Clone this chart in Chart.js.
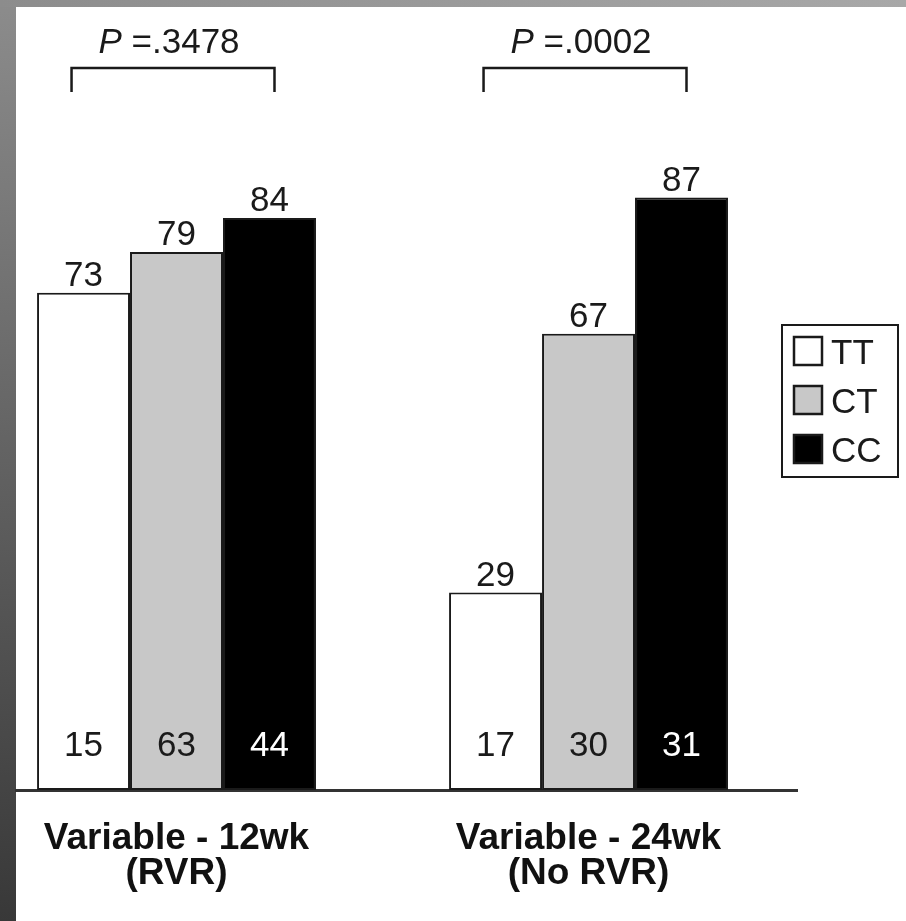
<!DOCTYPE html>
<html>
<head>
<meta charset="utf-8">
<title>Response by genotype</title>
<script src="https://cdn.jsdelivr.net/npm/chart.js@4.4.1/dist/chart.umd.min.js"></script>
<style>
  body { margin: 0; background: #fff; }
  canvas { display: block; }
</style>
</head>
<body>
<canvas id="genotypeChart" width="906" height="921"></canvas>
<script>
const categories = [['Variable - 12wk', '(RVR)'], ['Variable - 24wk', '(No RVR)']];
const genotypes = ['TT', 'CT', 'CC'];
const ttValues = [73, 29];
const ctValues = [79, 67];
const ccValues = [84, 87];
const ttCounts = [15, 17];
const ctCounts = [63, 30];
const ccCounts = [44, 31];
const pValues = ['.3478', '.0002'];

const family = "'Liberation Sans', Arial, Helvetica, sans-serif";
const ink = '#1a1a1a';

function points(values) {
  return values.map((v, i) => ({ x: i + 1, y: v }));
}

// grey frame on the left and top edge
const frame = {
  id: 'frame',
  beforeDraw(chart) {
    const ctx = chart.ctx;
    ctx.save();
    ctx.fillStyle = '#fff';
    ctx.fillRect(0, 0, chart.width, chart.height);
    let g = ctx.createLinearGradient(0, 0, 0, chart.height);
    g.addColorStop(0, '#8c8c8c');
    g.addColorStop(1, '#383838');
    ctx.fillStyle = g;
    ctx.fillRect(0, 0, 16, chart.height);
    g = ctx.createLinearGradient(0, 0, chart.width, 0);
    g.addColorStop(0, '#8c8c8c');
    g.addColorStop(1, '#a8a8a8');
    ctx.fillStyle = g;
    ctx.fillRect(0, 0, chart.width, 7);
    ctx.restore();
  }
};

// percent above each bar, n inside the bottom, P brackets on top
const barLabels = {
  id: 'barLabels',
  afterDatasetsDraw(chart) {
    const ctx = chart.ctx;
    const bottom = chart.chartArea.bottom;
    ctx.save();
    ctx.font = '35px ' + family;
    ctx.textAlign = 'center';
    ctx.textBaseline = 'alphabetic';
    chart.data.datasets.forEach((ds, d) => {
      chart.getDatasetMeta(d).data.forEach((bar, i) => {
        ctx.fillStyle = ink;
        ctx.fillText(ds.data[i].y, bar.x, bar.y - 7);
        ctx.fillStyle = ds.countColor;
        ctx.fillText(ds.counts[i], bar.x, bottom - 34);
      });
    });

    const tt = chart.getDatasetMeta(0).data;
    const cc = chart.getDatasetMeta(2).data;
    pValues.forEach((p, i) => {
      const left = tt[i].x - 12;
      const right = cc[i].x + 5;
      ctx.strokeStyle = ink;
      ctx.lineWidth = 2.5;
      ctx.beginPath();
      ctx.moveTo(left, 92);
      ctx.lineTo(left, 68);
      ctx.lineTo(right, 68);
      ctx.lineTo(right, 92);
      ctx.stroke();

      ctx.font = 'italic 35px ' + family;
      const wP = ctx.measureText('P').width;
      ctx.font = '35px ' + family;
      const rest = ' =' + p;
      const wR = ctx.measureText(rest).width;
      const x0 = (left + right) / 2 - 4 - (wP + wR) / 2;
      ctx.textAlign = 'left';
      ctx.fillStyle = ink;
      ctx.font = 'italic 35px ' + family;
      ctx.fillText('P', x0, 53);
      ctx.font = '35px ' + family;
      ctx.fillText(rest, x0 + wP, 53);
    });
    ctx.restore();
  }
};

// boxed legend on the right
const legendBox = {
  id: 'legendBox',
  afterDraw(chart) {
    const ctx = chart.ctx;
    ctx.save();
    ctx.strokeStyle = ink;
    ctx.lineWidth = 2;
    ctx.strokeRect(782, 325, 116, 152);
    ctx.font = '35px ' + family;
    ctx.textAlign = 'left';
    ctx.textBaseline = 'alphabetic';
    chart.data.datasets.forEach((ds, i) => {
      const y = 337 + i * 49;
      ctx.fillStyle = ds.backgroundColor;
      ctx.fillRect(794, y, 28, 28);
      ctx.strokeStyle = ink;
      ctx.lineWidth = 2.5;
      ctx.strokeRect(794, y, 28, 28);
      ctx.fillStyle = ink;
      ctx.fillText(ds.label, 831, y + 27);
    });
    ctx.restore();
  }
};

new Chart(document.getElementById('genotypeChart'), {
  type: 'bar',
  data: {
    datasets: [
      { label: genotypes[0], data: points(ttValues), counts: ttCounts, backgroundColor: '#ffffff', countColor: ink },
      { label: genotypes[1], data: points(ctValues), counts: ctCounts, backgroundColor: '#c8c8c8', countColor: ink },
      { label: genotypes[2], data: points(ccValues), counts: ccCounts, backgroundColor: '#000000', countColor: '#ffffff' }
    ]
  },
  options: {
    responsive: false,
    animation: false,
    layout: { padding: { left: 16, right: 109, top: 109, bottom: 0 } },
    datasets: {
      bar: {
        borderColor: ink,
        borderWidth: 2,
        borderSkipped: false,
        categoryPercentage: 0.677,
        barPercentage: 1
      }
    },
    plugins: {
      legend: { display: false },
      tooltip: { enabled: false }
    },
    scales: {
      x: {
        type: 'linear',
        offset: false,
        min: 0.6104,
        max: 2.506,
        afterBuildTicks: s => { s.ticks = categories.map((c, i) => ({ value: i + 1 })); },
        afterFit: s => { s.height = 131; },
        grid: { display: false, drawTicks: false, offset: false },
        border: { display: true, color: '#333', width: 3 },
        ticks: {
          callback: v => categories[v - 1],
          padding: 31,
          color: '#111',
          maxRotation: 0,
          autoSkip: false,
          font: { family: family, size: 37, weight: 'bold', lineHeight: 0.95 }
        }
      },
      y: { display: false, min: 0, max: 100 }
    }
  },
  plugins: [frame, barLabels, legendBox]
});
</script>
</body>
</html>
